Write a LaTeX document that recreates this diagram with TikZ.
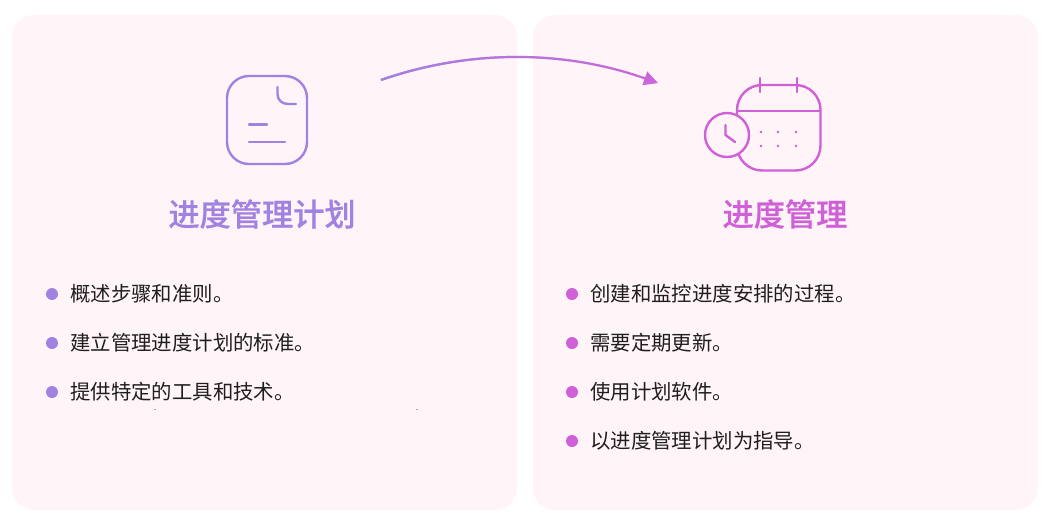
\documentclass[tikz,border=0pt]{standalone}
\usepackage{fontspec}
\setmainfont{Noto Sans CJK SC}
\newfontfamily\titlefont[FakeBold=0.5]{Noto Sans CJK SC Medium}
\usetikzlibrary{arrows.meta,fadings}
\definecolor{panelbg}{HTML}{FFF4F7}
\definecolor{lilac}{HTML}{A282E0}
\definecolor{orchid}{HTML}{D060D8}
\definecolor{arrowend}{HTML}{CA66DA}
\definecolor{inktext}{HTML}{1E1E1E}
\tikzset{
  panel/.style={fill=panelbg,draw=none,rounded corners=22pt},
  iconline/.style={line width=2.4pt,line cap=round,line join=round},
  titletext/.style={font=\fontsize{31.2}{34}\selectfont\titlefont,anchor=center,inner sep=0pt},
  itemtext/.style={font=\fontsize{20.4}{24}\selectfont,text=inktext,anchor=west,inner sep=0pt},
  bullet/.style={circle,minimum size=12pt,inner sep=0pt,draw=none},
}
\begin{document}
\begin{tikzpicture}[x=1pt,y=-1pt]
\useasboundingbox (0,0) rectangle (1054,523);
\fill[white] (0,0) rectangle (1054,523);
\fill[panel] (12,15) rectangle (517,510);
\fill[panel] (533,15) rectangle (1038,510);

% document icon
\draw[iconline,lilac,rounded corners=22pt] (227,76) rectangle (307,164);
\draw[iconline,lilac] (277.5,87) -- (277.5,94) .. controls (277.5,100) and (282,104) .. (288,104) -- (296,104);
\draw[iconline,lilac] (249,124.5) -- (267,124.5);
\draw[iconline,lilac] (249,142) -- (285,142);

% calendar icon
\draw[iconline,orchid,rounded corners=25pt] (737,85) rectangle (820.5,170.5);
\draw[iconline,orchid,line cap=butt] (737,111) -- (820.5,111);
\draw[iconline,orchid] (760,78) -- (760,92);
\draw[iconline,orchid] (797,78) -- (797,92);
\foreach \px in {761,778,796}
  \foreach \py in {132,146}
    \fill[orchid] (\px,\py) circle (1.3pt);
\fill[panelbg] (727,135) circle (22);
\draw[iconline,orchid] (727,135) circle (22);
\draw[iconline,orchid] (725.5,125) -- (725.5,135) -- (735,142);

% connector
\coordinate (arrowstart) at (381,80);
\coordinate (arrowtip) at (658,83);
\draw[line width=2.2pt,arrowend,-{Triangle[length=14pt,width=14pt]}] (arrowstart) .. controls (470,49) and (565,50) .. (arrowtip);
\draw[line width=2.2pt,lilac,path fading=east] (arrowstart) .. controls (470,49) and (565,50) .. (645,79);

% titles
\node[titletext,text=lilac] (titleA) at (262,214) {进度管理计划};
\node[titletext,text=orchid] (titleB) at (785,214) {进度管理};

% left list
\node[bullet,fill=lilac] (a1) at (52,294) {};
\node[bullet,fill=lilac] (a2) at (52,343) {};
\node[bullet,fill=lilac] (a3) at (52,392) {};
\node[itemtext] (ta1) at (70,294) {概述步骤和准则。};
\node[itemtext] (ta2) at (70,343) {建立管理进度计划的标准。};
\node[itemtext] (ta3) at (70,392) {提供特定的工具和技术。};

% right list
\node[bullet,fill=orchid] (b1) at (572,294) {};
\node[bullet,fill=orchid] (b2) at (572,343) {};
\node[bullet,fill=orchid] (b3) at (572,392) {};
\node[bullet,fill=orchid] (b4) at (572,441) {};
\node[itemtext] (tb1) at (590,294) {创建和监控进度安排的过程。};
\node[itemtext] (tb2) at (590,343) {需要定期更新。};
\node[itemtext] (tb3) at (590,392) {使用计划软件。};
\node[itemtext] (tb4) at (590,441) {以进度管理计划为指导。};

% specks
\fill[gray!70] (153.5,409.3) rectangle (155.5,410.3);
\fill[gray!70] (416,409.3) rectangle (418,410.3);
\end{tikzpicture}
\end{document}
